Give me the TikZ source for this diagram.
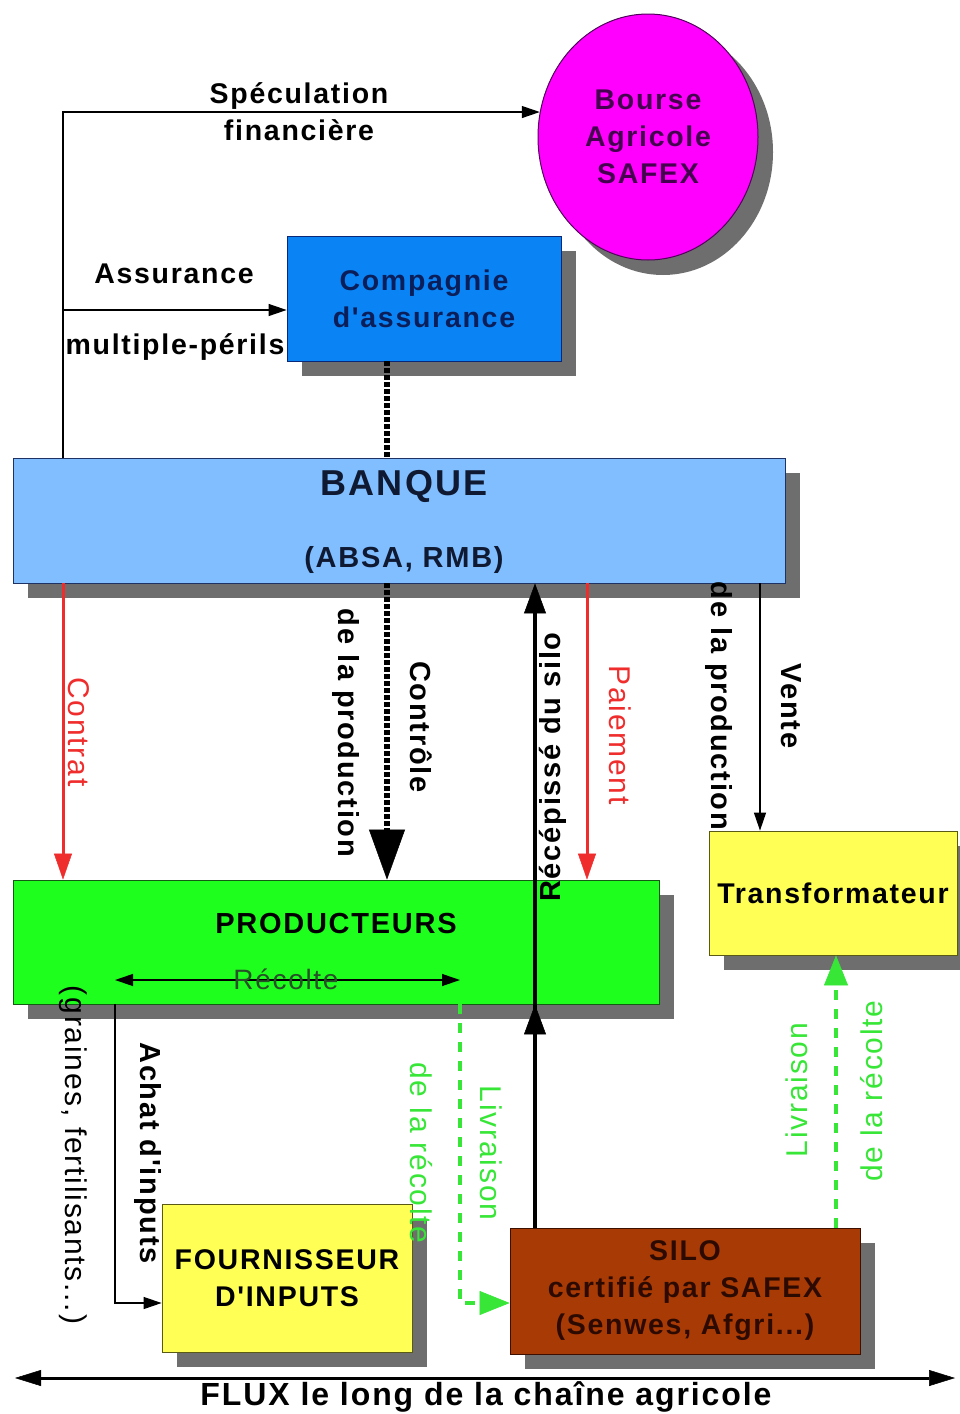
\documentclass[tikz,border=0pt]{standalone}
\usepackage{fontspec}
\setmainfont[LetterSpace=6,Ligatures=TeXOff]{Liberation Sans}
\usetikzlibrary{arrows.meta,shapes.geometric,shadows}
\definecolor{shgray}{RGB}{110,110,110}
\definecolor{mymag}{RGB}{255,0,255}
\definecolor{magdark}{RGB}{80,0,90}
\definecolor{magtext}{RGB}{70,0,80}
\definecolor{compblue}{RGB}{10,132,245}
\definecolor{compdark}{RGB}{10,40,120}
\definecolor{comptext}{RGB}{10,30,90}
\definecolor{bankblue}{RGB}{128,190,255}
\definecolor{bankdark}{RGB}{30,50,100}
\definecolor{banktext}{RGB}{15,25,50}
\definecolor{prodgreen}{RGB}{30,255,30}
\definecolor{proddark}{RGB}{20,90,20}
\definecolor{myyellow}{RGB}{255,255,85}
\definecolor{yeldark}{RGB}{90,90,20}
\definecolor{silobrown}{RGB}{168,58,6}
\definecolor{silodark}{RGB}{60,15,0}
\definecolor{silotext}{RGB}{45,10,0}
\definecolor{myred}{RGB}{240,45,45}
\definecolor{mygreen}{RGB}{55,230,55}
\definecolor{recolte}{RGB}{40,80,40}
\newcommand\lsz[1]{\fontsize{#1}{37}\selectfont}
\begin{document}
\begin{tikzpicture}[x=1pt,y=-1pt,
  shad/.style={general shadow={fill=shgray, shadow xshift=15pt, shadow yshift=-15pt}},
  box/.style={rectangle, draw, line width=0.8pt, inner sep=0pt, align=center, shad, font=\lsz{28.5}\bfseries},
  lab/.style={inner sep=0pt, align=center, font=\lsz{28.5}\bfseries},
  labr/.style={inner sep=0pt, align=center, font=\lsz{30}},
  thinarr/.style={draw=black, line width=1.2pt, -{Triangle[length=18pt,width=12pt]}},
  redarr/.style={draw=myred, line width=3pt, -{Triangle[length=26pt,width=18pt,line width=0.5pt]}},
  ctrl/.style={draw=black, line width=6pt, dash pattern=on 5pt off 2pt},
  blk/.style={draw=black, line width=4pt, -{Triangle[length=30pt,width=22pt,line width=0.5pt]}},
  grn/.style={draw=mygreen, line width=3.5pt, dash pattern=on 10pt off 9pt, -{Triangle[length=30pt,width=24pt,line width=0.5pt]}}
]
\useasboundingbox (0,0) rectangle (960,1414);
\fill[white] (0,0) rectangle (960,1414);

% boxes
\node[ellipse, draw=magdark, line width=1pt, fill=mymag, minimum width=220pt, minimum height=246pt,
      inner sep=0pt, align=center, shad, text=magtext, font=\lsz{28.5}\bfseries] (bourse) at (648,137) {Bourse\\Agricole\\SAFEX};
\node[box, draw=compdark, fill=compblue, text=comptext, minimum width=274pt, minimum height=125pt] (comp) at (424,298.5) {Compagnie\\d'assurance};
\node[box, draw=bankdark, fill=bankblue, minimum width=772pt, minimum height=125pt] (banque) at (399,520.5) {};
\node[box, draw=proddark, fill=prodgreen, minimum width=646pt, minimum height=124pt] (prod) at (336,942) {};
\node[box, draw=yeldark, fill=myyellow, minimum width=248pt, minimum height=124pt] (transf) at (833,893) {Transformateur};
\node[box, draw=yeldark, fill=myyellow, minimum width=250pt, minimum height=148pt] (four) at (287,1278) {FOURNISSEUR\\D'INPUTS};
\node[box, draw=silodark, fill=silobrown, text=silotext, minimum width=350pt, minimum height=126pt] (silo) at (685,1291) {SILO\\certifié par SAFEX\\(Senwes, Afgri...)};

% texts inside wide boxes
\node[lab, text=banktext, font=\lsz{36}\bfseries] (tbanque) at (404,486) {BANQUE};
\node[lab, text=banktext, font=\lsz{29}\bfseries] (tabsa) at (404,560) {(ABSA, RMB)};
\node[lab, font=\lsz{29}\bfseries] (tprod) at (336,924) {PRODUCTEURS};

% coordinates
\coordinate (xa) at (63,0);
\coordinate (xc) at (387,0);
\coordinate (xr) at (535,0);
\coordinate (xp) at (587,0);
\coordinate (xv) at (760,0);
\coordinate (xl) at (836,0);
\coordinate (ca) at (63,310);
\coordinate (r1) at (115,980);
\coordinate (r2) at (460,980);
\coordinate (ab) at (115,1303);
\coordinate (lv) at (460,1303);
\coordinate (f1) at (15,1378);
\coordinate (f2) at (955,1378);

% connectors
\draw[thinarr] (banque.north -| xa) |- (bourse.167);
\draw[thinarr] (ca) -- (ca -| comp.west);
\draw[ctrl] (comp.south -| xc) -- (banque.north -| xc);
\draw[ctrl, -{Triangle[length=50pt,width=36pt,line width=0.5pt]}] (banque.south -| xc) -- (prod.north -| xc);
\draw[redarr] (banque.south -| xa) -- (prod.north -| xa);
\draw[redarr] (banque.south -| xp) -- (prod.north -| xp);
\draw[blk] (silo.north -| xr) -- (banque.south -| xr);
\draw[blk] (silo.north -| xr) -- (prod.south -| xr);
\draw[thinarr] (banque.south -| xv) -- (transf.north -| xv);
\draw[draw=black, line width=1.2pt, {Triangle[length=18pt,width=12pt]}-{Triangle[length=18pt,width=12pt]}] (r1) -- (r2);
\draw[thinarr] (prod.south -| ab) -- (ab) -- (ab -| four.west);
\draw[grn] (prod.south -| lv) -- (lv) -- (lv -| silo.west);
\draw[grn] (silo.north -| xl) -- (transf.south -| xl);
\draw[line width=3pt, {Triangle[length=26pt,width=16pt,line width=0.5pt]}-{Triangle[length=26pt,width=16pt,line width=0.5pt]}] (f1) -- (f2);

% labels
\node[lab] (lspec) at (299,111.5) {Spéculation\\financière};
\node[lab] (lass) at (174,274) {Assurance};
\node[lab] (lmult) at (175,347) {multiple-périls};
\node[labr, text=myred, rotate=-90] (lcontrat) at (79,732) {Contrat};
\node[lab, rotate=-90, font=\lsz{29}\bfseries] (lctrl) at (421,727) {Contrôle};
\node[lab, rotate=-90, font=\lsz{29}\bfseries] (lctrl2) at (346,733) {de la production};
\node[lab, rotate=90, font=\lsz{29}\bfseries] (lrec) at (553,767) {Récépissé du silo};
\node[labr, text=myred, rotate=-90] (lpaie) at (620,735) {Paiement};
\node[lab, rotate=-90, font=\lsz{29}\bfseries] (lvente) at (791,706) {Vente};
\node[lab, rotate=-90, font=\lsz{29}\bfseries] (lvente2) at (719,706) {de la production};
\node[labr, text=recolte, font=\lsz{28}] (lrecolte) at (286,979) {Récolte};
\node[lab, rotate=-90, font=\lsz{29}\bfseries] (lachat) at (148,1153) {Achat d'inputs};
\node[labr, rotate=-90] (lgrain) at (73,1155) {(graines, fertilisants...)};
\node[labr, text=mygreen, rotate=-90] (lliv1) at (491,1153) {Livraison};
\node[labr, text=mygreen, rotate=-90] (lliv1b) at (421,1153) {de la récolte};
\node[labr, text=mygreen, rotate=90] (lliv2) at (797,1090) {Livraison};
\node[labr, text=mygreen, rotate=90] (lliv2b) at (872,1091) {de la récolte};
\node[lab, font=\lsz{32}\bfseries] (lflux) at (486,1397) {FLUX le long de la chaîne agricole};
\end{tikzpicture}
\end{document}
